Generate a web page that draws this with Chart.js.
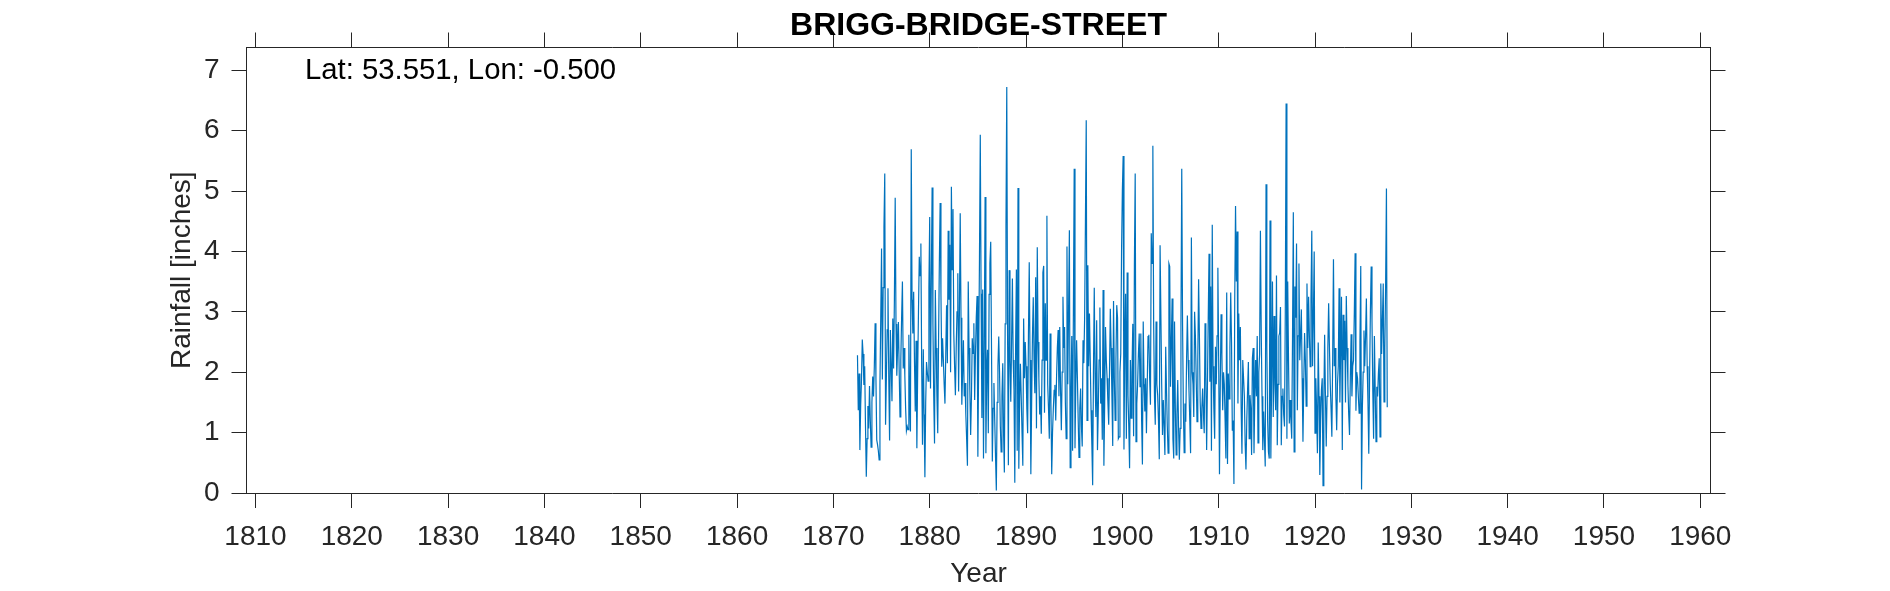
<!DOCTYPE html>
<html>
<head>
<meta charset="utf-8">
<style>html,body{margin:0;padding:0;background:#fff}canvas{display:block}</style>
<script src="https://cdn.jsdelivr.net/npm/chart.js@4"></script>
</head>
<body>
<canvas id="c" width="1890" height="591"></canvas>
<script>
const startYear = 1872.5;
const monthsPerYear = 12;
const xTicks = [1810,1820,1830,1840,1850,1860,1870,1880,1890,1900,1910,1920,1930,1940,1950,1960];
const yTicks = [0,1,2,3,4,5,6,7];
const titleText = "BRIGG-BRIDGE-STREET";
const noteText = "Lat: 53.551, Lon: -0.500";
const rainfall = [
2.28,1.37,1.98,.71,1.45,1.87,2.54,2.3,1.79,2.1,
1.1,.27,.9,1.44,1.07,1.77,1.2,.76,1.5,1.93,
1.6,2.1,2.81,1.9,.88,.8,.7,.55,1.8,2.9,
4.05,1.88,3.4,4.4,5.29,1.13,1.9,2.7,3.39,1.9,
.87,2.7,2.1,1.52,2.89,2.06,3.2,4.89,2.8,1.94,
2.4,2.83,2.0,1.26,2.2,2.9,3.5,2.06,2.4,1.95,
1.4,1.03,1.1,1.05,2.62,1.6,1.02,5.69,3.2,2.64,
3.33,2.2,1.35,2.52,.74,2.0,3.0,3.91,3.6,4.13,
2.1,.8,2.38,1.3,.26,1.5,2.17,2.0,1.85,3.4,
4.57,1.73,3.5,5.06,2.8,1.6,.82,3.36,2.4,1.6,
.99,2.5,3.8,4.8,3.3,2.09,2.56,2.2,1.8,1.48,
2.3,3.11,2.15,4.34,3.2,4.11,2.0,5.07,3.7,4.7,
2.64,2.1,1.62,2.4,3.0,3.64,1.68,3.0,4.63,2.9,
1.46,2.0,2.53,1.6,1.82,1.3,.9,.45,3.5,2.4,
1.7,.96,1.6,2.56,2.31,2.81,1.54,2.3,2.9,3.26,
.6,2.2,3.9,5.93,3.3,1.24,3.37,.57,2.5,
4.9,
.66,2.0,2.37,.99,3.29,3.8,4.16,2.4,.52,1.4,
1.82,1.2,.6,.04,1.5,2.1,2.59,2.0,1.1,.68,
1.6,2.15,1.0,.34,2.8,4.4,6.72,2.6,.46,3.69,
2.2,1.51,2.5,3.55,2.2,1.7,.17,2.4,3.7,.7,
5.05,.4,1.5,2.14,1.6,1.0,.45,2.89,1.9,2.5,
2.1,1.4,.99,2.6,3.82,2.2,.31,1.5,2.6,3.24,
2.2,1.65,3.57,1.07,4.07,2.5,1.9,1.3,1.6,.98,
2.2,3.65,3.76,1.33,3.14,2.2,4.59,1.8,1.4,.9,
2.64,1.5,.31,1.0,1.4,1.7,1.79,1.2,1.9,2.4,
2.7,1.6,2.75,1.7,1.04,2.0,3.25,2.4,2.75,1.5,
.9,4.08,1.8,3.0,4.35,.42,1.6,2.6,.7,3.0,
5.37,.74,1.8,2.53,1.9,1.2,.59,1.4,1.73,1.1,
.77,2.53,2.15,2.9,4.5,6.17,1.2,3.77,2.1,2.97,
2.2,1.37,.8,.13,2.0,3.4,1.9,1.26,2.86,.71,
1.37,2.2,3.07,1.48,1.9,.88,3.36,.45,1.5,2.75,
2.2,1.9,1.5,1.13,2.0,3.05,2.4,1.6,.78,3.18,
1.9,1.2,2.2,3.11,2.9,.9,
.93,2.0,2.31,4.0,5.0,5.58,.72,2.4,3.3,.9,
3.65,1.62,1.1,.41,2.2,1.24,2.0,2.8,.94,3.76,
5.29,.85,1.48,1.8,2.3,2.64,1.76,2.64,1.2,.47,
2.84,1.8,1.35,1.9,.99,1.8,2.59,2.62,1.9,1.46,
4.3,3.8,5.75,2.8,1.6,1.13,2.84,1.8,1.62,1.2,
.56,4.1,4.1,1.8,.96,1.54,1.1,.63,2.42,1.7,
1.1,.66,3.8,3.75,1.76,2.5,3.22,.9,.57,2.84,
1.4,.63,1.3,1.87,1.1,.55,1.07,2.8,5.37,2.8,
1.4,.67,1.48,1.18,2.2,2.94,2.2,1.7,1.2,.66,
4.23,2.0,1.8,1.26,3.0,2.6,1.9,1.18,2.2,3.54,
2.6,1.5,1.07,1.4,1.73,1.3,.99,2.81,2.0,.71,
1.8,2.9,3.96,1.84,3.42,.7,4.44,2.1,1.4,.9,
2.42,1.8,2.6,3.73,2.2,.31,1.8,2.96,2.3,1.37,
2.0,1.8,1.2,.57,3.32,.48,1.98,1.56,2.4,3.32,
2.5,1.03,1.2,.15,3.2,4.75,3.5,4.33,1.48,2.97,
2.2,2.75,1.4,.65,2.2,1.9,1.6,.8,.39,1.2,
1.7,2.17,.9,1.62,1.4,.63,2.23,2.4,
.66,1.6,2.2,1.6,2.6,.83,2.0,2.3,4.34,2.7,
1.6,.71,1.35,.9,.44,5.11,2.4,1.2,.68,.57,
4.51,.57,1.9,3.5,1.26,2.93,1.8,1.37,3.6,.79,
1.8,2.6,2.65,3.08,.79,1.6,1.73,1.3,1.1,3.0,
6.45,.9,3.5,2.2,1.15,1.54,1.2,.9,2.6,4.65,
.68,3.42,2.9,4.13,1.37,2.6,3.8,2.2,2.6,3.04,
1.9,.85,1.8,2.65,2.2,1.44,3.47,2.4,3.25,2.6,
2.09,3.2,4.34,2.1,2.9,4.0,.99,1.9,1.4,.66,
2.49,1.6,.3,1.2,1.7,1.9,.12,1.5,2.62,1.6,
.77,1.6,2.4,3.14,2.4,1.8,1.4,.93,2.2,3.87,
2.1,2.4,1.6,1.04,1.8,2.1,3.39,1.5,2.4,3.25,
.71,2.95,2.2,2.85,1.5,3.26,2.4,1.8,1.3,.96,
1.9,2.63,1.6,2.1,2.2,3.0,3.97,1.36,2.0,1.9,
1.6,1.32,2.5,3.76,.06,1.4,2.0,2.69,2.1,2.6,
3.22,2.1,1.5,.65,1.9,3.0,3.75,2.85,1.7,.9,
2.6,1.7,.85,1.76,1.6,1.98,2.23,.93,3.47,2.3,
2.85,3.47,1.51,2.4,3.47,5.04,1.42
];
const FONT = "'Liberation Sans', Arial, Helvetica, sans-serif";
const INK = "#262626";
const xMin = 1809.07, xMax = 1961.06, yMin = 0, yMax = 7.376;

const points = rainfall.map((v, i) => ({ x: startYear + i / monthsPerYear, y: v }));
const setTicks = list => s => { s.ticks = list.map(v => ({ value: v })); };
const gridOpts = { drawOnChartArea: false, color: INK, lineWidth: 1, tickLength: 15, tickWidth: 1 };
const borderOpts = { display: true, color: INK, width: 1 };

const notePlugin = {
  id: "note",
  afterDraw(chart) {
    const c = chart.ctx;
    c.save();
    c.font = "29.3px " + FONT;
    c.fillStyle = "#000";
    c.textBaseline = "alphabetic";
    c.fillText(noteText, chart.scales.x.getPixelForValue(1815.14), chart.scales.y.getPixelForValue(6.85));
    c.restore();
  }
};

new Chart(document.getElementById("c"), {
  type: "line",
  plugins: [notePlugin],
  data: { datasets: [{
    data: points, borderColor: "#0072BD", borderWidth: 1.2, pointRadius: 0,
    tension: 0, fill: false, xAxisID: "x", yAxisID: "y"
  }] },
  options: {
    responsive: false, animation: false, devicePixelRatio: 1,
    layout: { padding: { left: 0, right: 179.5, top: 0, bottom: 0 } },
    plugins: {
      legend: { display: false }, tooltip: { enabled: false },
      title: { display: true, text: titleText, color: "#000", fullSize: false,
        font: { family: FONT, size: 32, weight: "bold", lineHeight: 1.2 },
        padding: { top: 7, bottom: 2.1 } }
    },
    scales: {
      x: { type: "linear", position: "bottom", min: xMin, max: xMax,
        afterBuildTicks: setTicks(xTicks),
        afterFit: s => { s.height = 98; },
        grid: gridOpts, border: borderOpts,
        ticks: { color: INK, font: { family: FONT, size: 28 }, padding: 12, maxRotation: 0, autoSkip: false, includeBounds: false, callback: v => String(v) },
        title: { display: true, text: "Year", color: INK, font: { family: FONT, size: 28, lineHeight: 1.2 }, padding: { top: 0, bottom: 0 } } },
      y: { type: "linear", position: "left", min: yMin, max: yMax,
        afterBuildTicks: setTicks(yTicks),
        afterFit: s => { s.width = 246.5; },
        grid: gridOpts, border: borderOpts,
        ticks: { color: INK, font: { family: FONT, size: 28 }, padding: 12, autoSkip: false, includeBounds: false, callback: v => String(v) },
        title: { display: true, text: "Rainfall [inches]", color: INK, font: { family: FONT, size: 28, lineHeight: 1.2 }, padding: { top: 165, bottom: 0 } } },
      x2: { type: "linear", position: "top", min: xMin, max: xMax,
        afterBuildTicks: setTicks(xTicks),
        afterFit: s => { s.height = 0; },
        grid: gridOpts, border: borderOpts,
        ticks: { display: false, autoSkip: false, includeBounds: false } },
      y2: { type: "linear", position: "right", min: yMin, max: yMax,
        afterBuildTicks: setTicks(yTicks),
        afterFit: s => { s.width = 0; },
        grid: gridOpts, border: borderOpts,
        ticks: { display: false, autoSkip: false, includeBounds: false } }
    }
  }
});
</script>
</body>
</html>
